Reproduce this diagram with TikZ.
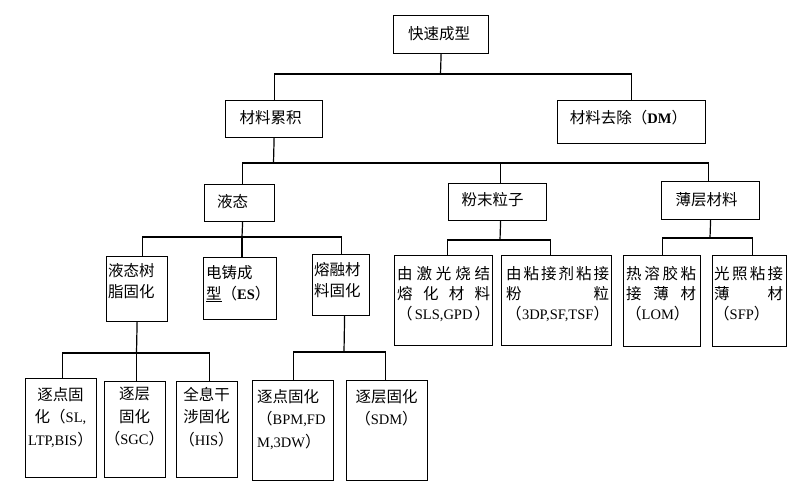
\documentclass[tikz,border=0pt]{standalone}
\usepackage{fontspec}
\setmainfont{Liberation Serif}
\newfontfamily\cjkfont{Noto Sans CJK SC}
\newcommand\la[1]{{\rmfamily\fontsize{14.5}{21}\selectfont #1}}
\newcommand\jl[2]{\makebox[#1pt][s]{#2}}
\tikzset{
  box/.style={draw, line width=1.2pt, inner sep=0pt, anchor=north west},
  lbl/.style={inner sep=0pt, font=\cjkfont\fontsize{15.5}{21}\selectfont},
  lbltwenty/.style={inner sep=0pt, font=\cjkfont\fontsize{15.5}{20}\selectfont},
  lblwide/.style={inner sep=0pt, font=\cjkfont\fontsize{15.5}{22.5}\selectfont},
  conn/.style={line width=1.2pt}
}
\begin{document}
\begin{tikzpicture}[x=1pt,y=-1pt]
\path[fill=white] (0,0) rectangle (801,487);
\useasboundingbox (0,0) rectangle (801,487);

% boxes
\node[box, minimum width=95pt, minimum height=38pt] (top) at (393,15) {};
\node[box, minimum width=97pt, minimum height=37pt] (ljl) at (225,100) {};
\node[box, minimum width=148pt, minimum height=43pt] (qc) at (557,100) {};
\node[box, minimum width=70pt, minimum height=37pt] (yt) at (204,184) {};
\node[box, minimum width=98pt, minimum height=37pt] (fm) at (448,183) {};
\node[box, minimum width=98pt, minimum height=38pt] (bc) at (661,181) {};
\node[box, minimum width=61pt, minimum height=65pt] (yts) at (106,256) {};
\node[box, minimum width=73pt, minimum height=62pt] (dz) at (203,257) {};
\node[box, minimum width=57pt, minimum height=61pt] (rr) at (312,254) {};
\node[box, minimum width=98pt, minimum height=90pt] (jg) at (394,255) {};
\node[box, minimum width=110pt, minimum height=90pt] (nj) at (501,255) {};
\node[box, minimum width=77pt, minimum height=91pt] (rrj) at (623,255) {};
\node[box, minimum width=74pt, minimum height=91pt] (gz) at (712,255) {};
\node[box, minimum width=71pt, minimum height=99pt] (zda) at (25,378) {};
\node[box, minimum width=61pt, minimum height=96pt] (zca) at (104,381) {};
\node[box, minimum width=61pt, minimum height=96pt] (qx) at (176,381) {};
\node[box, minimum width=81pt, minimum height=100pt] (zdb) at (252,380) {};
\node[box, minimum width=81pt, minimum height=100pt] (zcb) at (346,380) {};

% single-line texts
\node[lbl] (top-t) at (439,34) {快速成型};
\node[lbl] (ljl-t) at (270.5,118) {材料累积};
\node[lbl] (qc-t) at (628.5,118) {材料去除（\la{\textbf{DM}}）};
\node[lbl] (yt-t) at (232.5,202) {液态};
\node[lbl] (fm-t) at (492.5,200) {粉末粒子};
\node[lbl] (bc-t) at (706.5,199.5) {薄层材料};

% multi-line texts
\node[lbl, anchor=north west, align=left] (yts-t) at (108,263) {液态树\\脂固化};
\node[lbl, anchor=north west, align=left] (dz-t) at (206,265) {电铸成\\\underline{型}（\la{\textbf{ES}}）};
\node[lbl, anchor=north west, align=left] (rr-t) at (314,262) {熔融材\\料固化};

\node[lbltwenty, anchor=north west, align=left] (jg-t) at (397,266)
  {\jl{93}{由\hfill 激\hfill 光\hfill 烧\hfill 结}\\\jl{93}{熔\hfill 化\hfill 材\hfill 料}\\\jl{93}{（\hfill\la{SLS,GPD}\hfill）}};
\node[lbltwenty, anchor=north west, align=left] (nj-t) at (506,266)
  {\jl{103}{由\hfill 粘\hfill 接\hfill 剂\hfill 粘\hfill 接}\\\jl{103}{粉\hfill 粒}\\\jl{103}{（\hfill\la{3DP,SF,TSF}\hfill）}};
\node[lbltwenty, anchor=north west, align=left] (rrj-t) at (626,266)
  {\jl{70}{热\hfill 溶\hfill 胶\hfill 粘}\\\jl{70}{接\hfill 薄\hfill 材}\\（\la{LOM}）};
\node[lbltwenty, anchor=north west, align=left] (gz-t) at (714,266)
  {\jl{69}{光\hfill 照\hfill 粘\hfill 接}\\\jl{69}{薄\hfill 材}\\（\la{SFP}）};

\node[lblwide, anchor=north, align=center] (zda-t) at (60.5,387) {逐点固\\化（\la{SL,}\\\la{LTP,BIS}）};
\node[lblwide, anchor=north, align=center] (zca-t) at (134.5,387) {逐层\\固化\\（\la{SGC}）};
\node[lblwide, anchor=north, align=center] (qx-t) at (206.5,387) {全息干\\涉固化\\（\la{HIS}）};
\node[lblwide, anchor=north west, align=left] (zdb-t) at (257,389) {逐点固化\\（\la{BPM,FD}\\\la{M,3DW}）};
\node[lblwide, anchor=north, align=center] (zcb-t) at (386.5,389) {逐层固化\\（\la{SDM}）};

% connectors
\coordinate (b0) at (440.5,74);
\draw[conn] (top.south) -- (b0);
\draw[conn] (ljl.north) |- (b0) -| (qc.north);

\coordinate (b1) at (273.5,163);
\draw[conn] (ljl.south) -- (b1);
\draw[conn] ([xshift=3pt]yt.north) |- (b1) -| ([xshift=-2pt]bc.north);
\draw[conn] ([xshift=3pt]fm.north) -- ([xshift=3pt]fm.north |- b1);

\coordinate (b2) at (242,237);
\draw[conn] ([xshift=3pt]yt.south) -- (b2);
\draw[conn] ([xshift=5.5pt]yts.north) |- (b2) -| (rr.north);
\draw[conn] (b2) -- (b2 |- dz.north);

\coordinate (b3) at (136.5,353);
\draw[conn] (yts.south) -- (b3);
\draw[conn] ([xshift=1.5pt]zda.north) |- (b3) -| ([xshift=2.5pt]qx.north);
\draw[conn] (b3) -- (b3 |- zca.north);

\coordinate (b4) at (344,352);
\draw[conn] ([xshift=3.5pt]rr.south) -- (b4);
\draw[conn] (zdb.north) |- (b4) -| ([xshift=-1.5pt]zcb.north);

\coordinate (b5) at (500,240);
\draw[conn] ([xshift=3pt]fm.south) -- (b5);
\draw[conn] ([xshift=4pt]jg.north) |- (b5) -| ([xshift=-6pt]nj.north);

\coordinate (b6) at (710,238);
\draw[conn] (bc.south) -- (b6);
\draw[conn] (rrj.north) |- (b6) -| ([xshift=3pt]gz.north);
\end{tikzpicture}
\end{document}
